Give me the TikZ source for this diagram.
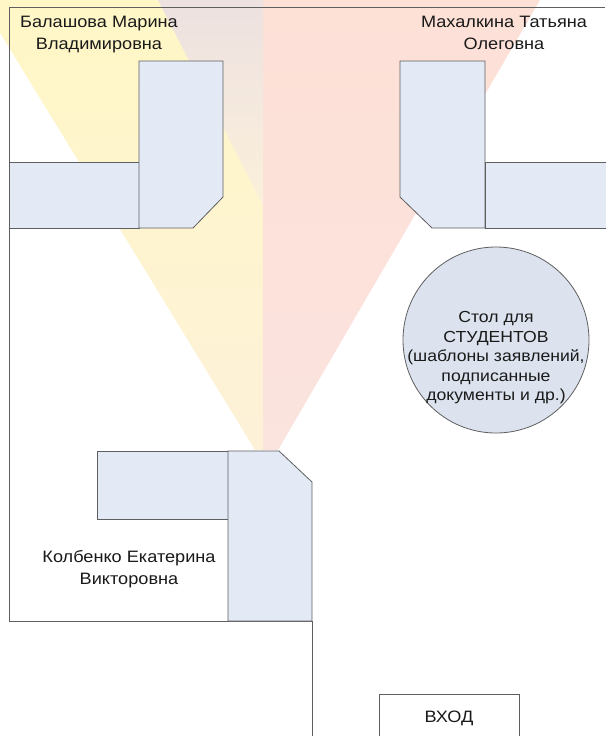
\documentclass[tikz,border=0pt]{standalone}
\usepackage{fontspec}
\setmainfont[FakeStretch=1.1]{Liberation Sans}
\definecolor{linegray}{HTML}{5F5F5F}
\definecolor{deskblue}{HTML}{E3EAF5}
\definecolor{tableblue}{HTML}{DCE3EE}
\definecolor{yelTop}{HTML}{FFF7C6}
\definecolor{yelBot}{HTML}{FDF1D8}
\definecolor{redTop}{HTML}{FDE0D6}
\definecolor{redBot}{HTML}{FBE3DE}
\definecolor{mauveTop}{HTML}{EDE1E1}
\definecolor{mauveBot}{HTML}{FBF0DA}
\definecolor{txt}{HTML}{1A1A1A}
\begin{document}
\begin{tikzpicture}[x=1pt,y=-1pt,
  wall/.style={draw=linegray,line width=0.8pt},
  desk/.style={draw=linegray,fill=deskblue,line width=0.8pt,line join=miter},
  lbl/.style={font=\fontsize{16.5}{22}\selectfont,align=center,text=txt,inner sep=0pt},
  tbl/.style={circle,draw=linegray,fill=tableblue,line width=0.8pt,minimum size=186pt,inner sep=0pt},
  tbltext/.style={font=\fontsize{16}{19.5}\selectfont,align=center,text=txt,inner sep=0pt}]
\useasboundingbox (0,0) rectangle (605,736);
\fill[white] (0,0) rectangle (605,736);
% view cones
\shade[top color=yelTop,bottom color=yelBot] (255,450) -- (-20,0) -- (263,0) -- (263,450) -- cycle;
\shade[top color=redTop,bottom color=redBot] (263,450) -- (263,0) -- (540,0) -- (278,450) -- cycle;
\shade[top color=mauveTop,bottom color=mauveBot] (158,0) -- (263,0) -- (263,205) -- cycle;
% walls
\draw[wall] (9,7) -- (605,7);
\draw[wall] (9,7) -- (9,621) -- (312,621) -- (312,736);
% top-left desk
\draw[desk] (9,162) rectangle (139,228);
\draw[desk] (139,61) -- (223,61) -- (223,197) -- (193,228) -- (139,228) -- cycle;
% top-right desk
\draw[desk] (400,61) -- (485,61) -- (485,228) -- (432,228) -- (400,197) -- cycle;
\fill[deskblue] (485,162) rectangle (606,228);
\draw[wall] (606,162) -- (485,162) -- (485,228) -- (606,228);
% bottom desk
\draw[desk] (97,451) rectangle (228,519);
\draw[desk] (228,451) -- (279,451) -- (312,482) -- (312,621) -- (228,621) -- cycle;
% students table
\node[tbl] (table) at (496,340) {};
\node[tbltext] (tabletext) at (496,358) {Стол для\\СТУДЕНТОВ\\(шаблоны заявлений,\\подписанные\\документы и др.)};
% entrance
\draw[wall] (379,737) -- (379,694) -- (519,694) -- (519,737);
\node[lbl] (entr) at (449,718) {ВХОД};
% labels
\node[lbl] (balashova) at (99,35) {Балашова Марина\\Владимировна};
\node[lbl] (mahalkina) at (504,33) {Махалкина Татьяна\\Олеговна};
\node[lbl] (kolbenko) at (129,569) {Колбенко Екатерина\\Викторовна};
\end{tikzpicture}
\end{document}
